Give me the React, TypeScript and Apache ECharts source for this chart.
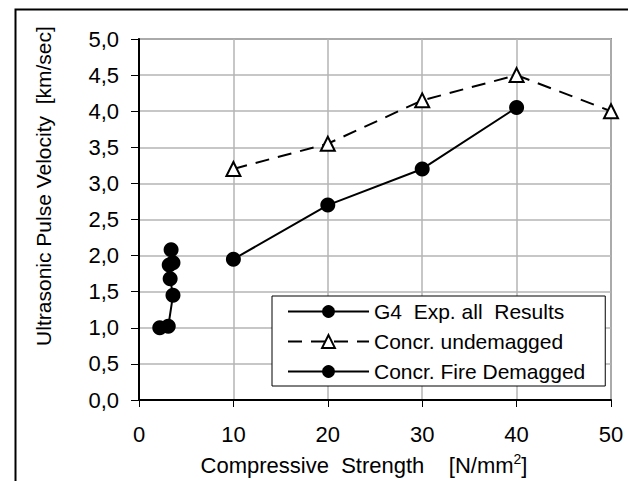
import React, { useEffect, useRef } from "react";
import * as echarts from "echarts";

const FONT = "'Liberation Sans', Arial, sans-serif";

const g4Name = "G4  Exp. all  Results";
const undName = "Concr. undemagged";
const fireName = "Concr. Fire Demagged";

const g4X = [2.2, 3.1, 3.6, 3.3, 3.2, 3.6, 3.4];
const g4Y = [1.0, 1.02, 1.45, 1.68, 1.87, 1.9, 2.08];

const undX = [10, 20, 30, 40, 50];
const undY = [3.2, 3.55, 4.15, 4.5, 4.0];

const fireX = [10, 20, 30, 40];
const fireY = [1.95, 2.7, 3.2, 4.05];

const xTicks = [0, 10, 20, 30, 40, 50];

const zip = (xs: number[], ys: number[]) => xs.map((x, i) => [x, ys[i]]);

export default function App() {
  const ref = useRef<HTMLDivElement>(null);
  useEffect(() => {
    if (!ref.current) return;
    const chart = echarts.init(ref.current, undefined, { renderer: "svg" });
    const lineBlack = { color: "#000", width: 2 };
    chart.setOption({
      animation: false,
      backgroundColor: "#fff",
      textStyle: { fontFamily: FONT },
      grid: {
        left: 139,
        right: 17,
        top: 39,
        bottom: 81,
        show: true,
        borderColor: "#8c8c8c",
        borderWidth: 2,
        backgroundColor: "transparent",
      },
      xAxis: {
        type: "value",
        min: xTicks[0],
        max: xTicks[xTicks.length - 1],
        interval: 10,
        axisLine: { show: true, onZero: false, lineStyle: { color: "#000", width: 2 } },
        axisTick: { show: true, length: 7, inside: false, lineStyle: { color: "#000", width: 1 } },
        axisLabel: { fontSize: 22, color: "#000", margin: 23, fontFamily: FONT },
        splitLine: { show: true, lineStyle: { color: "#b4b4b4", width: 1.5 } },
      },
      yAxis: {
        type: "value",
        min: 0,
        max: 5,
        interval: 0.5,
        axisLine: { show: true, onZero: false, lineStyle: { color: "#000", width: 2 } },
        axisTick: { show: true, length: 8, lineStyle: { color: "#000", width: 1 } },
        axisLabel: {
          fontSize: 22,
          color: "#000",
          margin: 20,
          fontFamily: FONT,
          formatter: (v: number) => v.toFixed(1).replace(".", ","),
        },
        splitLine: { show: true, lineStyle: { color: "#b4b4b4", width: 1.5 } },
      },
      legend: {
        show: true,
        orient: "vertical",
        left: 272,
        top: 296,
        backgroundColor: "#fff",
        borderColor: "#000",
        borderWidth: 1,
        borderRadius: 0,
        padding: [5, 20, 4, 15],
        itemGap: 9,
        itemWidth: 81,
        itemHeight: 16,
        textStyle: { fontSize: 21, color: "#000", fontFamily: FONT },
        data: [g4Name, undName, fireName],
      },
      series: [
        {
          name: g4Name,
          type: "line",
          data: zip(g4X, g4Y),
          symbol: "circle",
          symbolSize: 15,
          itemStyle: { color: "#000" },
          lineStyle: lineBlack,
          z: 3,
        },
        {
          name: undName,
          type: "line",
          data: zip(undX, undY),
          symbol: "triangle",
          symbolSize: 14,
          itemStyle: { color: "#fff", borderColor: "#000", borderWidth: 2 },
          lineStyle: { color: "#000", width: 2, type: [14, 9] },
          z: 3,
        },
        {
          name: fireName,
          type: "line",
          data: zip(fireX, fireY),
          symbol: "circle",
          symbolSize: 15,
          itemStyle: { color: "#000" },
          lineStyle: lineBlack,
          z: 3,
        },
      ],
      graphic: [
        {
          type: "rect",
          left: 13,
          top: 7,
          shape: { width: 614, height: 520 },
          style: { fill: "none", stroke: "#000", lineWidth: 2 },
          z: -10,
          silent: true,
        },
        {
          type: "text",
          x: 43,
          y: 186,
          rotation: Math.PI / 2,
          style: {
            text: "Ultrasonic Pulse Velocity  [km/sec]",
            font: `21px ${FONT}`,
            fill: "#000",
            align: "center",
            verticalAlign: "middle",
          },
        },
        {
          type: "text",
          x: 364,
          y: 465,
          style: {
            text: "Compressive  Strength    [N/mm{sup|2}]",
            font: `22px ${FONT}`,
            fontSize: 22,
            fontFamily: FONT,
            fill: "#000",
            align: "center",
            verticalAlign: "middle",
            rich: {
              sup: { fontSize: 14, fontFamily: FONT, fill: "#000", padding: [0, 0, 12, 0] },
            },
          },
        },
      ],
    });
    return () => chart.dispose();
  }, []);
  return (
    <div
      ref={ref}
      style={{ position: "fixed", left: 0, top: 0, width: 628, height: 481 }}
    />
  );
}
